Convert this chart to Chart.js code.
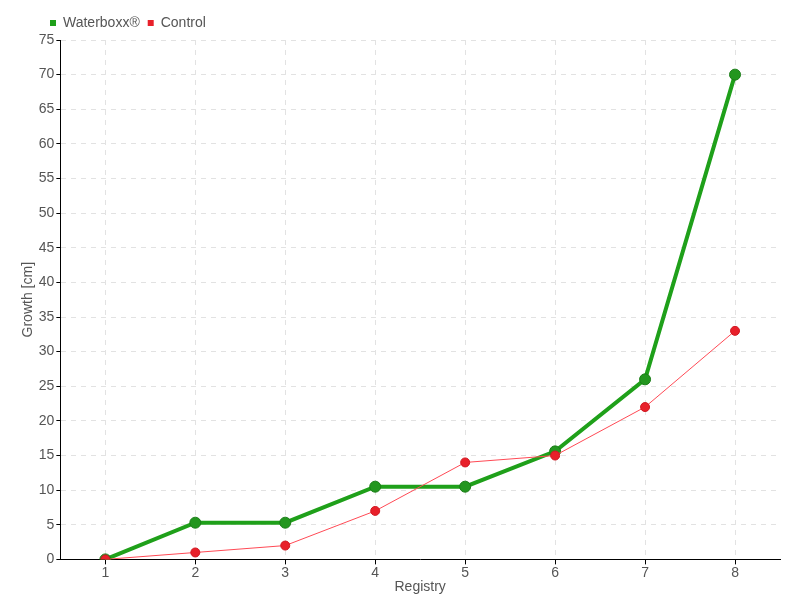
<!DOCTYPE html>
<html>
<head>
<meta charset="utf-8">
<script src="https://cdn.jsdelivr.net/npm/chart.js@4"></script>
<style>
    html, body { margin: 0; padding: 0; background: #fff; }
    #wrap { width: 800px; height: 600px; }
</style>
</head>
<body>
<div id="wrap"><canvas id="growthChart"></canvas></div>
<script>
const registros = ['1', '2', '3', '4', '5', '6', '7', '8'];
const waterboxx = [0, 5.3, 5.3, 10.5, 10.5, 15.6, 26, 70];
const control = [0, 1, 2, 7, 14, 15, 22, 33];
const fuente = "'Liberation Sans', 'DejaVu Sans', sans-serif";

document.addEventListener('DOMContentLoaded', () => {
    inicializarGrafico();
});

// mueve la leyenda hacia la derecha, como en el original
const moverLeyenda = {
    id: 'moverLeyenda',
    afterLayout(chart) {
        if (chart.legend) {
            chart.legend.left += 22;
            chart.legend.right += 22;
        }
    }
};

function inicializarGrafico() {
    if (typeof Chart === 'undefined') {
        console.error('Chart.js no está cargado');
        return;
    }
    Chart.defaults.font.family = fuente;
    Chart.defaults.color = '#555';

    new Chart(document.getElementById('growthChart').getContext('2d'), {
        type: 'line',
        data: {
            labels: registros,
            datasets: [
                {
                    label: 'Waterboxx®',
                    data: waterboxx,
                    borderColor: '#1fa01a',
                    backgroundColor: '#1fa01a',
                    borderWidth: 4,
                    pointRadius: 5.5,
                    pointBackgroundColor: '#23961f',
                    pointBorderColor: '#1a7d17',
                    pointBorderWidth: 1,
                    tension: 0,
                    order: 2
                },
                {
                    label: 'Control',
                    data: control,
                    borderColor: '#ff4a55',
                    backgroundColor: '#e8202a',
                    borderWidth: 1,
                    pointRadius: 4.5,
                    pointBackgroundColor: '#e8202a',
                    pointBorderColor: '#d01822',
                    pointBorderWidth: 1,
                    tension: 0,
                    order: 1
                }
            ]
        },
        plugins: [moverLeyenda],
        options: {
            responsive: true,
            maintainAspectRatio: false,
            animation: false,
            layout: { padding: { left: 20, right: 20, top: 8, bottom: 4 } },
            plugins: {
                legend: {
                    position: 'top',
                    align: 'start',
                    labels: {
                        boxWidth: 6,
                        boxHeight: 6,
                        padding: 8,
                        color: '#555',
                        font: { size: 14 },
                        sort: (a, b) => a.datasetIndex - b.datasetIndex,
                        generateLabels: (chart) => chart.data.datasets.map((ds, i) => ({
                            text: ds.label,
                            fillStyle: ds.backgroundColor,
                            strokeStyle: ds.backgroundColor,
                            lineWidth: 0,
                            fontColor: '#555',
                            hidden: !chart.isDatasetVisible(i),
                            datasetIndex: i
                        }))
                    }
                },
                tooltip: { enabled: false }
            },
            scales: {
                x: {
                    offset: true,
                    grid: {
                        offset: false,
                        color: '#e2e2e2',
                        tickColor: '#000',
                        tickLength: 5,
                        drawTicks: true
                    },
                    border: { display: true, color: '#000', width: 1, dash: [5, 5] },
                    ticks: { color: '#555', font: { size: 14 }, padding: 0 },
                    title: {
                        display: true,
                        text: 'Registry',
                        color: '#555',
                        font: { size: 14 },
                        padding: { top: -2, bottom: 0 }
                    }
                },
                y: {
                    min: 0,
                    max: 75,
                    grid: {
                        color: '#e2e2e2',
                        tickColor: '#000',
                        tickLength: 4
                    },
                    border: { display: true, color: '#000', width: 1, dash: [5, 5] },
                    ticks: { stepSize: 5, color: '#555', font: { size: 14 }, padding: 2 },
                    title: {
                        display: true,
                        text: 'Growth [cm]',
                        color: '#555',
                        font: { size: 14 },
                        padding: { top: 0, bottom: 0 }
                    }
                }
            }
        }
    });
}
</script>
</body>
</html>
